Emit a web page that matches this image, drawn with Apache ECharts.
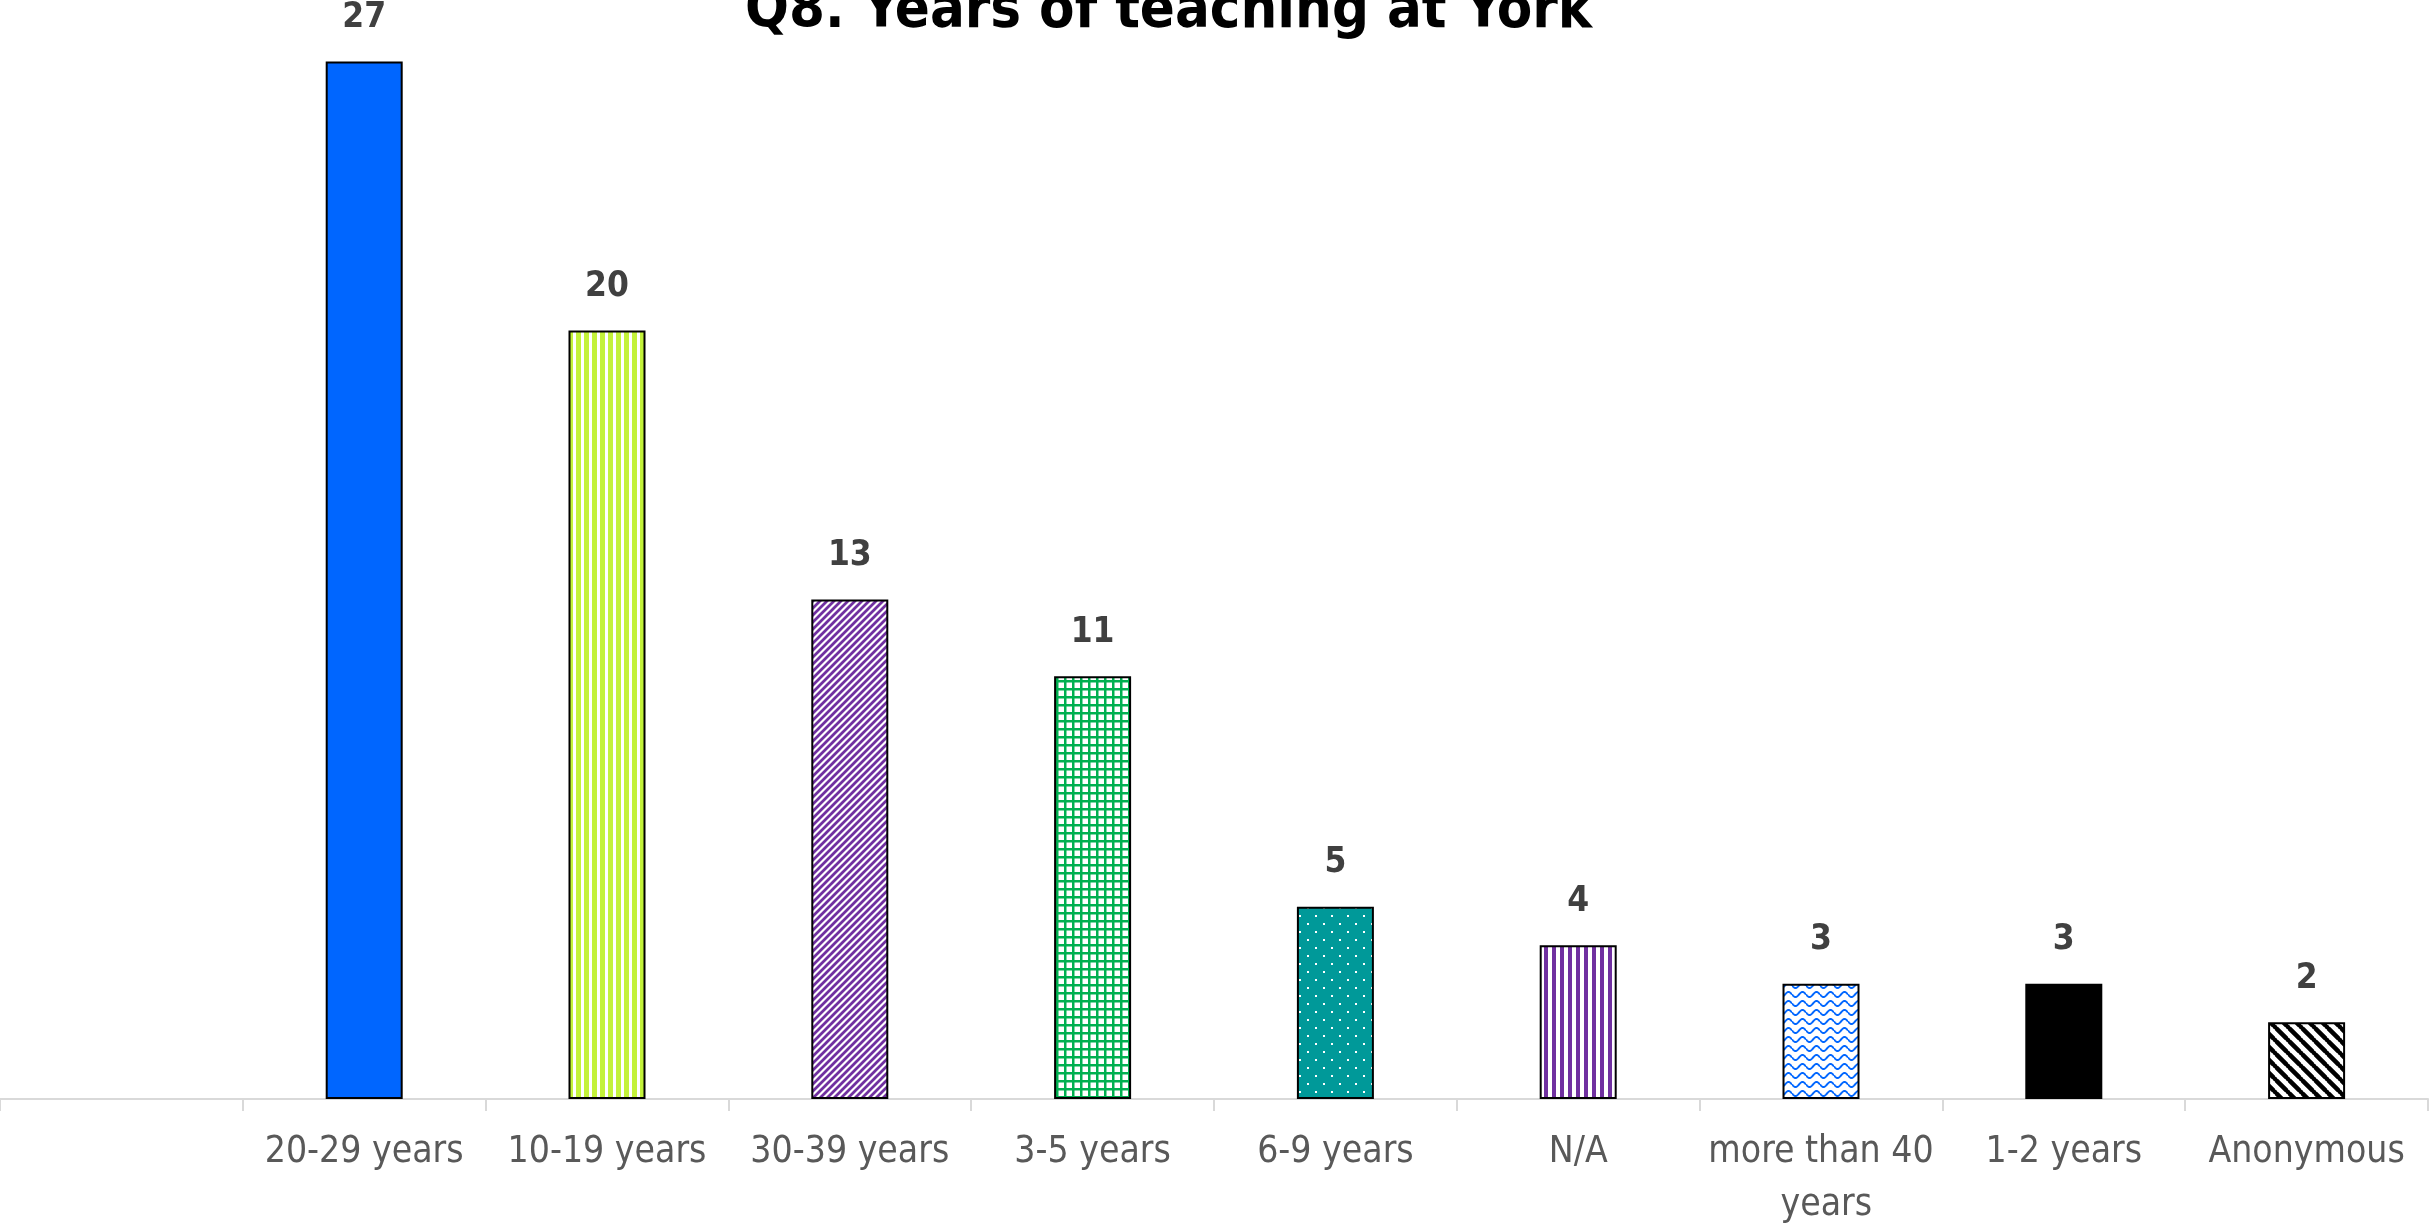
<!DOCTYPE html>
<html>
<head>
<meta charset="utf-8">
<title>Q8. Years of teaching at York</title>
<script src="https://cdn.jsdelivr.net/npm/echarts@6/dist/echarts.min.js"></script>
<style>
    html, body { margin: 0; padding: 0; background: #fff; }
    #years-chart { width: 2433px; height: 1225px; }
</style>
</head>
<body>
<div id="years-chart"></div>
<script>
// first category is left empty in the original chart
var categories = ['', '20-29 years', '10-19 years', '30-39 years', '3-5 years', '6-9 years', 'N/A', 'more than 40 years', '1-2 years', 'Anonymous'];
var answers = [null, 27, 20, 13, 11, 5, 4, 3, 3, 2];

var FONT = '"DejaVu Sans Condensed", "DejaVu Sans", sans-serif';

function tile(w, h, draw) {
    var c = document.createElement('canvas');
    c.width = w;
    c.height = h;
    draw(c.getContext('2d'), w, h);
    return { image: c, repeat: 'repeat' };
}

function vStripes(color, w, band) {
    return tile(w, w, function (ctx, cw, ch) {
        ctx.fillStyle = '#fff';
        ctx.fillRect(0, 0, cw, ch);
        ctx.fillStyle = color;
        ctx.fillRect(0, 0, band, ch);
    });
}

function diagStripes(color, size, lw, up) {
    return tile(size, size, function (ctx, s) {
        ctx.fillStyle = '#fff';
        ctx.fillRect(0, 0, s, s);
        ctx.strokeStyle = color;
        ctx.lineWidth = lw;
        ctx.beginPath();
        if (up) {
            ctx.moveTo(-1, s + 1); ctx.lineTo(s + 1, -1);
            ctx.moveTo(-1, 1); ctx.lineTo(1, -1);
            ctx.moveTo(s - 1, s + 1); ctx.lineTo(s + 1, s - 1);
        } else {
            ctx.moveTo(-1, -1); ctx.lineTo(s + 1, s + 1);
            ctx.moveTo(-1, s - 1); ctx.lineTo(1, s + 1);
            ctx.moveTo(s - 1, -1); ctx.lineTo(s + 1, 1);
        }
        ctx.stroke();
    });
}

var fills = [
    '#fff',
    '#0066FF',
    vStripes('#C3F23A', 8, 5),
    diagStripes('#7030A0', 7, 2.8, true),
    tile(8, 8, function (ctx, w, h) {
        ctx.fillStyle = '#fff';
        ctx.fillRect(0, 0, w, h);
        ctx.fillStyle = '#00B050';
        ctx.fillRect(0, 0, 2.5, h);
        ctx.fillRect(0, 0, w, 2.5);
    }),
    tile(16, 16, function (ctx, w, h) {
        ctx.fillStyle = '#009999';
        ctx.fillRect(0, 0, w, h);
        ctx.fillStyle = '#fff';
        ctx.fillRect(3, 3, 2, 2);
        ctx.fillRect(11, 11, 2, 2);
    }),
    vStripes('#7030A0', 8, 4),
    tile(14, 9, function (ctx, w, h) {
        ctx.fillStyle = '#fff';
        ctx.fillRect(0, 0, w, h);
        ctx.strokeStyle = '#0066FF';
        ctx.lineWidth = 1.9;
        ctx.beginPath();
        for (var x = 0; x <= w; x++) {
            var y = 4.5 + 2.6 * Math.sin(x / w * Math.PI * 2);
            if (x === 0) ctx.moveTo(x, y); else ctx.lineTo(x, y);
        }
        ctx.stroke();
    }),
    '#000000',
    diagStripes('#000000', 13, 4.5, false)
];

var chart = echarts.init(document.getElementById('years-chart'));

var option = {
    animation: false,
    backgroundColor: '#ffffff',
    title: {
        text: 'Q8. Years of teaching at York',
        left: 740,
        top: -22,
        textStyle: {
            fontFamily: FONT,
            fontWeight: 'bold',
            fontSize: 57.5,
            color: '#000000'
        }
    },
    grid: {
        left: 0,
        right: 5,
        top: 23,
        bottom: 126,
        containLabel: false,
        outerBoundsMode: 'none'
    },
    xAxis: {
        type: 'category',
        data: categories,
        axisLine: { lineStyle: { color: '#D9D9D9', width: 2 } },
        axisTick: { show: true, interval: 0, length: 12, lineStyle: { color: '#D9D9D9', width: 2 } },
        axisLabel: {
            interval: 0,
            margin: 27,
            color: '#595959',
            fontFamily: FONT,
            fontSize: 37,
            lineHeight: 53,
            width: 235,
            overflow: 'break'
        }
    },
    yAxis: {
        type: 'value',
        min: 0,
        max: 28,
        show: false,
        splitLine: { show: false }
    },
    series: [
        {
            type: 'bar',
            barWidth: 77,
            data: answers.map(function (v, i) {
                return {
                    value: v,
                    itemStyle: { color: fills[i], borderColor: '#000', borderWidth: 2 }
                };
            }),
            label: {
                show: true,
                position: 'top',
                distance: 26,
                color: '#404040',
                fontFamily: FONT,
                fontWeight: 'bold',
                fontSize: 35
            }
        }
    ]
};

chart.setOption(option);
</script>
</body>
</html>
